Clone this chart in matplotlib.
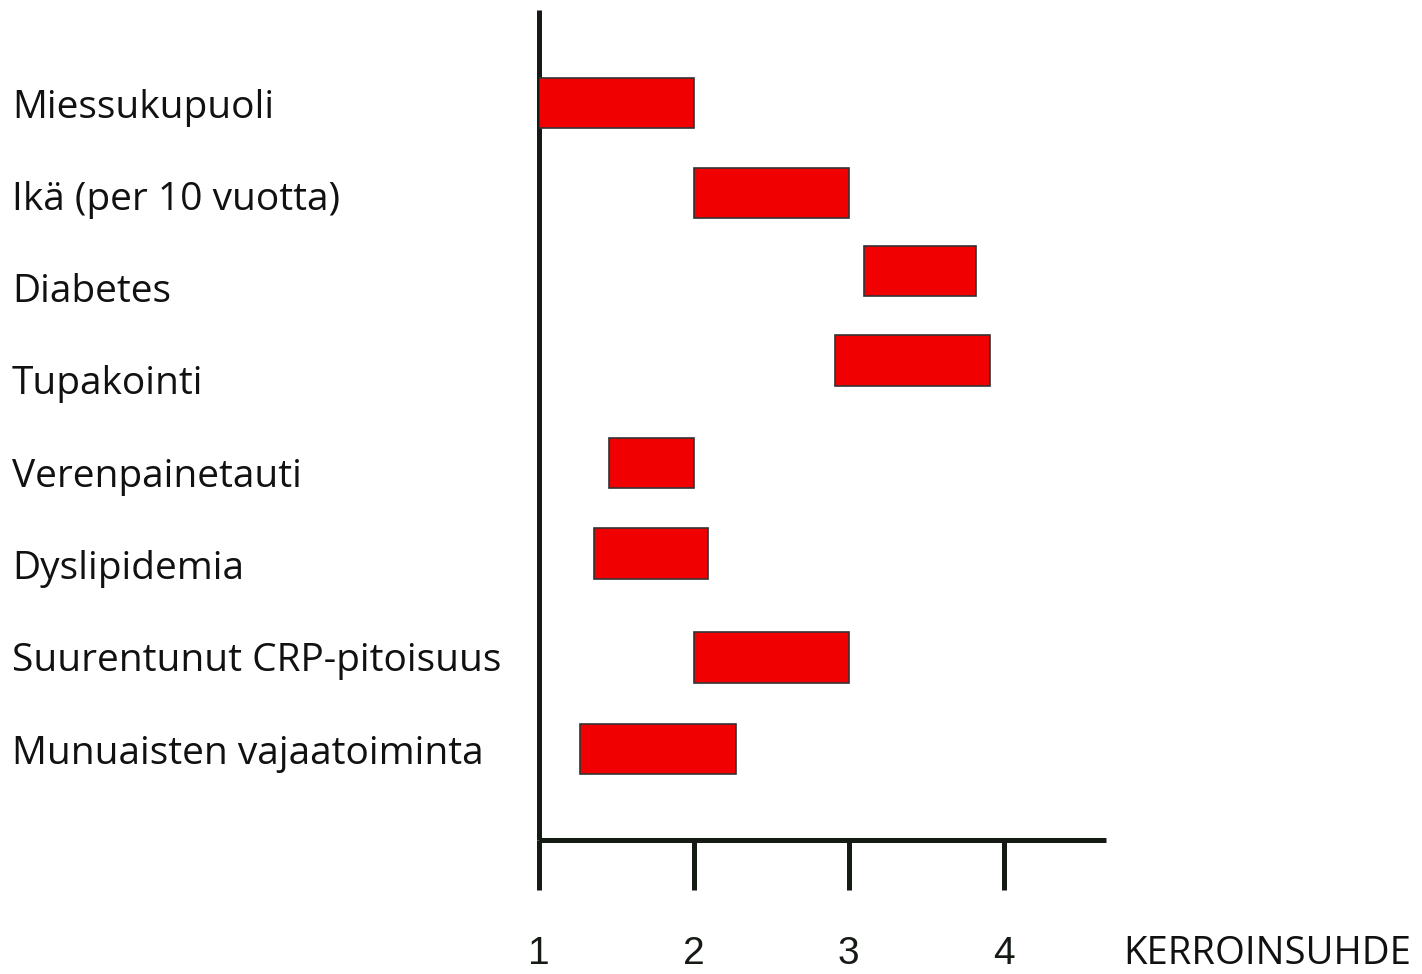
import matplotlib
matplotlib.use("Agg")
import matplotlib.pyplot as plt

# risk factors (top to bottom) and odds-ratio ranges
factors = [
    "Miessukupuoli",
    "Ikä (per 10 vuotta)",
    "Diabetes",
    "Tupakointi",
    "Verenpainetauti",
    "Dyslipidemia",
    "Suurentunut CRP-pitoisuus",
    "Munuaisten vajaatoiminta",
]
or_low = [1.0, 2.0, 3.1, 2.91, 1.45, 1.355, 2.0, 1.265]
or_high = [2.0, 3.0, 3.82, 3.91, 2.0, 2.09, 3.0, 2.27]
# bar centres in row units (bars are not exactly level with labels)
bar_rows = [0.0, 0.975, 1.82, 2.79, 3.9, 4.88, 6.01, 7.0]
xticks = [1, 2, 3, 4]
xlabel = "KERROINSUHDE"

W, H, DPI = 14.22, 9.74, 100
fig = plt.figure(figsize=(W, H), dpi=DPI)
ax = fig.add_axes([539 / 1422, (974 - 840) / 974, (1106 - 539) / 1422, (840 - 10) / 974])

axis_col = "#151a15"
label_font = "Open Sans"

widths = [h - l for l, h in zip(or_low, or_high)]
ax.barh(bar_rows, widths, left=or_low, height=0.55,
        color="#f00000", edgecolor="#333333", linewidth=1.2, zorder=3)

ax.set_xlim(1, 4.66)
ax.set_ylim(7.985, -1.008)

for side in ("top", "right"):
    ax.spines[side].set_visible(False)
for side in ("left", "bottom"):
    ax.spines[side].set_linewidth(3.6)
    ax.spines[side].set_color(axis_col)
    ax.spines[side].set_capstyle("butt")

ax.set_xticks(xticks)
ax.set_xticklabels([str(t) for t in xticks], family="Liberation Sans", fontsize=28)
ax.tick_params(axis="x", direction="out", length=36, width=3.6, color=axis_col,
               pad=33, labelcolor=axis_col)

ax.set_yticks(range(len(factors)))
ax.set_yticklabels(factors, family=label_font, fontsize=28, ha="left", color="#111111")
ax.tick_params(axis="y", length=0, pad=527 * 72 / DPI)

# axis title sits at the bottom right corner, level with the tick labels
fig.text(1123 / 1422, 1 / 974, xlabel, family=label_font, fontsize=27.5,
         ha="left", va="bottom", color="#111111")

fig.savefig("out.png", dpi=DPI)
